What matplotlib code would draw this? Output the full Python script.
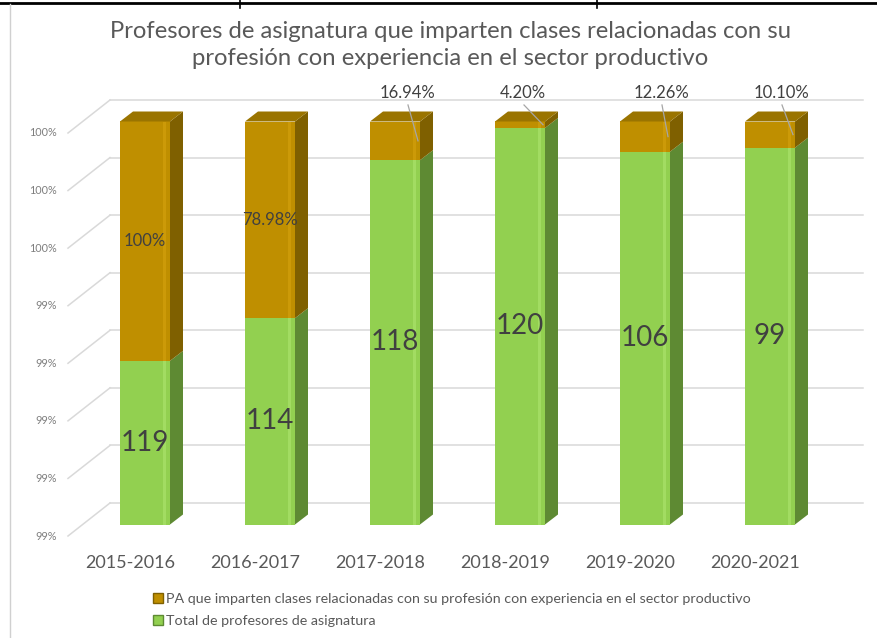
import matplotlib.pyplot as plt
from matplotlib.patches import Polygon, Patch
from matplotlib.lines import Line2D

years = ["2015-2016", "2016-2017", "2017-2018", "2018-2019", "2019-2020", "2020-2021"]
total_pa = [119, 114, 118, 120, 106, 99]
pa_exp_pct = ["100%", "78.98%", "16.94%", "4.20%", "12.26%", "10.10%"]
# part of the bar height that is green
green_share = [0.406, 0.512, 0.904, 0.984, 0.925, 0.935]
tick_labels = ["99%", "99%", "99%", "99%", "99%", "100%", "100%", "100%"]

title = ("Profesores de asignatura que imparten clases relacionadas con su\n"
         "profesión con experiencia en el sector productivo")
legend_names = ["PA que imparten clases relacionadas con su profesión con experiencia en el sector productivo",
                "Total de profesores de asignatura"]

# colours
green, green_side, green_hi = "#92d050", "#5e8a33", "#a2dc62"
gold, gold_side, gold_top, gold_hi = "#bf8f00", "#7f6000", "#9a7400", "#cc9a08"
grid_c = "#d9d9d9"
text_c = "#404040"

W, H = 877, 638
X0, SLOT = 145, 125       # pixel centre of first bar, pixels per category
Y0, HGT = 524.5, 403      # pixel row of 0 and pixel height of 1
px = 1 / SLOT
py = 1 / HGT

fig = plt.figure(figsize=(W / 100, H / 100), dpi=100)
ax = fig.add_axes([0, 0, 1, 1])
ax.set_xlim(-X0 * px, (W - X0) * px)
ax.set_ylim((Y0 - H) * py, Y0 * py)
ax.axis("off")

# 3d depth offsets
bdx, bdy = 13 * px, 10 * py          # bar depth
fdx, fdy = -15 * px, -11.5 * py      # front plane of floor
kdx, kdy = 28 * px, 21.5 * py        # back wall plane
wall_front = -0.616
wall_back = -0.28
wall_right = 5.74

n_grid = len(tick_labels)
for k in range(n_grid):
    v = k / (n_grid - 1)
    ax.plot([wall_back, wall_right], [v + kdy, v + kdy], color=grid_c, lw=1.1, zorder=1)
    ax.plot([wall_front, wall_back], [v + fdy, v + kdy], color=grid_c, lw=1.1, zorder=1)
    ax.text(wall_front - 11 * px, v + fdy, tick_labels[k], ha="right", va="center",
            fontsize=7.8, color="#7f7f7f", family="Lato")

bw = 0.4
xs = list(range(len(years)))
ax.bar(xs, green_share, width=bw, color=green, zorder=3)
gold_share = [1 - g for g in green_share]
ax.bar(xs, gold_share, width=bw, bottom=green_share, color=gold, zorder=3)

for i, g in enumerate(green_share):
    xl, xr = i - bw / 2, i + bw / 2
    # highlight strip near the right edge of the front faces
    ax.add_patch(Polygon([(xr - 7 * px, 0), (xr - 4 * px, 0), (xr - 4 * px, g), (xr - 7 * px, g)],
                         color=green_hi, lw=0, zorder=4))
    ax.add_patch(Polygon([(xr - 7 * px, g), (xr - 4 * px, g), (xr - 4 * px, 1), (xr - 7 * px, 1)],
                         color=gold_hi, lw=0, zorder=4))
    # side faces
    ax.add_patch(Polygon([(xr, 0), (xr + bdx, bdy), (xr + bdx, g + bdy), (xr, g)],
                         color=green_side, lw=0, zorder=3))
    ax.add_patch(Polygon([(xr, g), (xr + bdx, g + bdy), (xr + bdx, 1 + bdy), (xr, 1)],
                         color=gold_side, lw=0, zorder=3))
    # top face
    ax.add_patch(Polygon([(xl, 1), (xl + bdx, 1 + bdy), (xr + bdx, 1 + bdy), (xr, 1)],
                         color=gold_top, lw=0, zorder=3))

    ax.text(i, g / 2, str(total_pa[i]), ha="center", va="center", fontsize=20,
            color=text_c, family="Lato", zorder=6)
    if i < 2:
        ax.text(i, (g + 1) / 2, pa_exp_pct[i], ha="center", va="center", fontsize=12,
                color=text_c, family="Lato", zorder=6)

# labels placed above the short gold segments, with leader lines
label_dx = [0, 0, 12, 3, 16, 11]
for i in range(2, len(years)):
    g = green_share[i]
    lx = i + label_dx[i] * px
    ax.text(lx, 1.071, pa_exp_pct[i], ha="center", va="center", fontsize=12,
            color=text_c, family="Lato", zorder=6)
    ax.add_line(Line2D([lx + 1 * px, i + 23 * px], [1.041, (g + 1) / 2],
                       color="#a6a6a6", lw=0.9, zorder=6))

# category labels sit on the front edge of the floor
for i, y in enumerate(years):
    ax.text(i + fdx, (Y0 - 563) * py, y, ha="center", va="center", fontsize=13,
            color="#595959", family="Lato")

fig.text(450 / W, 1 - 45 / H, title, ha="center", va="center", fontsize=17.2,
         color="#595959", family="Lato", linespacing=1.35)

handles = [Patch(facecolor=gold, edgecolor=gold_side), Patch(facecolor=green, edgecolor=green_side)]
fig.legend(handles, legend_names, loc="upper left", bbox_to_anchor=(146 / W, 1 - 586 / H),
           frameon=False, handlelength=0.7, handleheight=0.7,
           handletextpad=0.2, labelspacing=0.7, borderpad=0,
           prop={"family": "Lato", "size": 10.3}, labelcolor="#595959")

# frame lines of the surrounding document
fig.add_artist(Line2D([0, 1], [1 - 3 / H, 1 - 3 / H], color="black", lw=2))
for xv in (240, 597):
    fig.add_artist(Line2D([xv / W, xv / W], [1, 1 - 8 / H], color="black", lw=1.2))
fig.add_artist(Line2D([10 / W, 10 / W], [0, 1 - 4 / H], color="#d0d0d0", lw=1))

fig.savefig("out.png", dpi=100)
